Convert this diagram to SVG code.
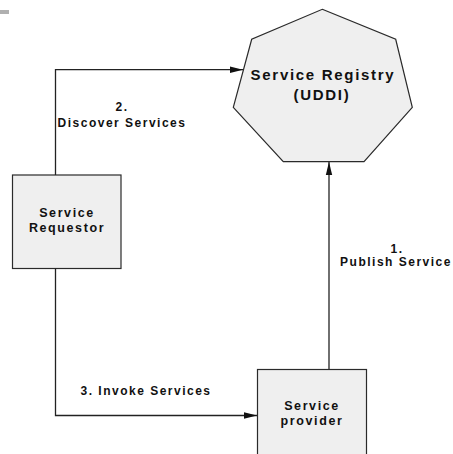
<svg xmlns="http://www.w3.org/2000/svg" width="453" height="454" viewBox="0 0 453 454">
<style>
.node{fill:#efefef;stroke:#2a2a2a;stroke-width:1.2}
.lbl{font-family:"Liberation Sans",Arial,sans-serif;font-weight:bold;font-size:12px;letter-spacing:1.5px;fill:#111;text-anchor:middle}
.nl{font-size:12.5px;letter-spacing:1.6px}
.big{font-size:15px;letter-spacing:1.7px}
.edge{fill:none;stroke:#222;stroke-width:1.3}
</style>
<defs>
<marker id="arr" markerWidth="13" markerHeight="8" refX="13" refY="4" orient="auto" markerUnits="userSpaceOnUse">
<path d="M0,0.8 L13,4 L0,7.2 Z" fill="#111"/>
</marker>
</defs>
<rect x="0" y="10" width="9" height="4" fill="#b0b0b0"/>
<g id="registry">
<polygon class="node" points="322.3,9.3 395.7,39.3 412.3,107.3 364,161.7 283.3,161.7 233.3,107.3 251.7,39.3"/>
<text class="lbl big" x="323" y="80">Service Registry</text>
<text class="lbl big" x="322" y="100">(UDDI)</text>
</g>
<g id="requestor">
<rect class="node" x="12.5" y="175" width="108.5" height="93.5"/>
<text class="lbl nl" x="67" y="217">Service</text>
<text class="lbl nl" x="67" y="232">Requestor</text>
</g>
<g id="provider">
<rect class="node" x="257.5" y="369.5" width="109" height="90"/>
<text class="lbl nl" x="312" y="410">Service</text>
<text class="lbl nl" x="312" y="425">provider</text>
</g>
<g id="connectors">
<polyline class="edge" points="55.5,175 55.5,69.7 243,69.7" marker-end="url(#arr)"/>
<polyline class="edge" points="55.5,268.5 55.5,415.5 257,415.5" marker-end="url(#arr)"/>
<line class="edge" x1="329" y1="369" x2="329" y2="162" stroke="#555" stroke-width="1.5" marker-end="url(#arr)"/>
<text class="lbl" x="122" y="111">2.</text>
<text class="lbl" x="122" y="126.5">Discover Services</text>
<text class="lbl" x="397" y="253">1.</text>
<text class="lbl" x="396" y="266">Publish Service</text>
<text class="lbl" x="146" y="395">3. Invoke Services</text>
</g>
</svg>
